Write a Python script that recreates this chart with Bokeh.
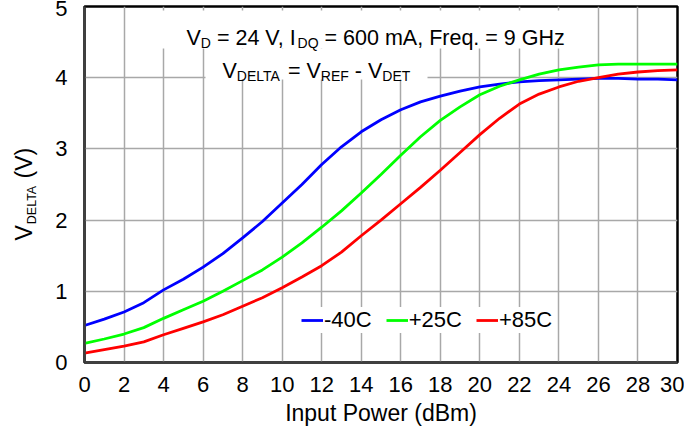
import math
from bokeh.plotting import figure
from bokeh.layouts import row
from bokeh.models import Range1d, FixedTicker, Label, BoxAnnotation, Legend, LegendItem
from bokeh.embed import file_html
from bokeh.resources import INLINE

# ---------------- data ----------------
input_power = list(range(0, 31))
v_m40 = [0.52, 0.61, 0.71, 0.84, 1.02, 1.17, 1.34, 1.53, 1.75, 1.98, 2.24,
         2.50, 2.78, 3.03, 3.24, 3.41, 3.55, 3.66, 3.74, 3.81, 3.87,
         3.91, 3.94, 3.96, 3.97, 3.98, 3.99, 3.99, 3.98, 3.98, 3.97]
v_p25 = [0.27, 0.33, 0.40, 0.49, 0.62, 0.74, 0.86, 1.00, 1.15, 1.30, 1.48,
         1.68, 1.90, 2.13, 2.38, 2.64, 2.91, 3.17, 3.40, 3.59, 3.76,
         3.88, 3.97, 4.05, 4.11, 4.15, 4.18, 4.19, 4.19, 4.19, 4.19]
v_p85 = [0.13, 0.18, 0.23, 0.29, 0.39, 0.48, 0.57, 0.67, 0.79, 0.91, 1.05,
         1.20, 1.36, 1.55, 1.78, 2.00, 2.23, 2.46, 2.70, 2.95, 3.20,
         3.43, 3.63, 3.77, 3.87, 3.95, 4.00, 4.05, 4.08, 4.10, 4.11]
series_labels = ["-40C", "+25C", "+85C"]
series_colors = ["#0000FF", "#00FF00", "#FF0000"]
x_ticks = list(range(0, 31, 2))
y_ticks = [0, 1, 2, 3, 4, 5]

# ---------------- layout ----------------
TOTAL_W, H = 684, 429
STRIP_W = 50                      # left strip holding the rotated y label
W = TOTAL_W - STRIP_W
ML, MR, MT, MB = 84 - STRIP_W, 7, 6, 67
FW = W - ML - MR
FH = H - MT - MB
X0, X1, Y0, Y1 = 0, 30, 0, 5
FONT = "Liberation Sans"
NB = "\u00a0"


def dx(px):
    return X0 + (px - STRIP_W - ML) / FW * (X1 - X0)


def dy(py):
    return Y1 - (py - MT) / FH * (Y1 - Y0)


AW = {' ': 278, NB: 278, '(': 333, ')': 333, '+': 584, ',': 278, '-': 333,
      '.': 278, '=': 584, 'A': 667, 'B': 667, 'C': 722, 'D': 722, 'E': 667,
      'F': 611, 'G': 778, 'H': 722, 'I': 278, 'L': 556, 'Q': 778, 'R': 722,
      'T': 611, 'V': 667, 'a': 556, 'e': 556, 'm': 833, 'q': 556, 'r': 333,
      'z': 500}


def tw(s, size):
    return sum(AW.get(c, 556) for c in s) / 1000.0 * size


p = figure(width=W, height=H, output_backend="svg", toolbar_location=None,
           x_range=Range1d(X0, X1), y_range=Range1d(Y0, Y1),
           min_border_left=ML, min_border_right=MR, min_border_top=MT,
           min_border_bottom=MB, background_fill_color="white",
           border_fill_color="white")

p.outline_line_color = "black"
p.outline_line_width = 2.5

for ax in (p.xaxis, p.yaxis):
    ax.axis_line_color = "#404040"
    ax.axis_line_width = 2.5
    ax.major_tick_line_color = None
    ax.minor_tick_line_color = None
    ax.major_tick_in = 0
    ax.major_tick_out = 0
    ax.major_label_text_font = FONT
    ax.major_label_text_font_size = "22px"
    ax.major_label_text_color = "black"

p.xaxis.ticker = FixedTicker(ticks=x_ticks)
p.yaxis.ticker = FixedTicker(ticks=y_ticks)
p.xaxis.major_label_standoff = 14
p.yaxis.major_label_standoff = 17

p.xaxis.axis_label = "Input Power (dBm)"
p.xaxis.axis_label_text_font = FONT
p.xaxis.axis_label_text_font_size = "23px"
p.xaxis.axis_label_text_font_style = "normal"
p.xaxis.axis_label_text_color = "black"
p.xaxis.axis_label_standoff = 5

p.xgrid.ticker = FixedTicker(ticks=x_ticks)
p.ygrid.ticker = FixedTicker(ticks=y_ticks)
for g in (p.xgrid, p.ygrid):
    g.grid_line_color = "#A8A8A8"
    g.grid_line_width = 1.5

renderers = []
for ys, c in zip([v_m40, v_p25, v_p85], series_colors):
    r = p.line(input_power, ys, line_color=c, line_width=2.8)
    renderers.append(r)

# white boxes behind the annotation texts
p.add_layout(BoxAnnotation(left=dx(160), right=dx(588), top=dy(10), bottom=dy(48),
                           fill_color="white", fill_alpha=1.0, line_color=None))
p.add_layout(BoxAnnotation(left=dx(205), right=dx(427), top=dy(48), bottom=dy(79),
                           fill_color="white", fill_alpha=1.0, line_color=None))


def add_pieces(pieces, x_px, base_px, main, sub, sub_off):
    cur = x_px
    for txt, is_sub in pieces:
        size = sub if is_sub else main
        off = sub_off if is_sub else 0
        p.add_layout(Label(x=dx(cur), y=dy(base_px + off), text=txt,
                           text_font=FONT, text_font_size=f"{size}px",
                           text_baseline="alphabetic", text_align="left",
                           text_color="black"))
        cur += tw(txt, size)


add_pieces([("V", False), ("D", True), (NB + "=" + NB + "24" + NB + "V," + NB + "I", False),
            ("DQ", True), (NB + "=" + NB + "600" + NB + "mA," + NB + "Freq." + NB + "=" + NB + "9" + NB + "GHz", False)],
           186, 37.5, 21.5, 14, 5)
add_pieces([("V", False), ("DELTA", True), (NB + "=" + NB + "V", False), ("REF", True),
            (NB + "-" + NB + "V", False), ("DET", True)], 222, 70.7, 21.5, 14, 5)

legend = Legend(items=[LegendItem(label=l, renderers=[r])
                       for l, r in zip(series_labels, renderers)],
                location=(217, 29), orientation="horizontal",
                glyph_width=22, glyph_height=20, label_standoff=1, spacing=14,
                padding=5, margin=0, label_text_font=FONT,
                label_text_font_size="22px", label_text_color="black",
                background_fill_color="white", background_fill_alpha=1.0,
                border_line_color=None)
p.add_layout(legend, "center")

# ---------------- left strip with the rotated y-axis label ----------------
# its frame is given the same vertical extent as the main frame (page y 6..362)
s = figure(width=STRIP_W, height=H, output_backend="svg", toolbar_location=None,
           x_range=Range1d(0, STRIP_W), y_range=Range1d(MT + FH, MT),
           min_border_left=0, min_border_right=0, min_border_top=MT,
           min_border_bottom=MB, x_axis_location=None, y_axis_location=None,
           background_fill_color="white", border_fill_color="white")
s.outline_line_color = None
s.grid.visible = False

# pieces placed by their centres (rotation-safe)
cur = 240.0
for txt, is_sub in [("V", False), ("DELTA", True), (NB + "(V)", False)]:
    size = 12.5 if is_sub else 23
    base_x = 35.7 if is_sub else 31.7
    w = tw(txt, size)
    cx = base_x - 0.3465 * size
    cy = cur - w / 2
    s.add_layout(Label(x=cx, y=cy, text=txt, angle=math.pi / 2,
                       angle_units="rad", text_font=FONT,
                       text_font_size=f"{size}px", text_baseline="middle",
                       text_align="center", text_color="black"))
    cur -= w

layout = row(s, p, spacing=0)
open("out.html", "w").write(file_html(layout, INLINE))
